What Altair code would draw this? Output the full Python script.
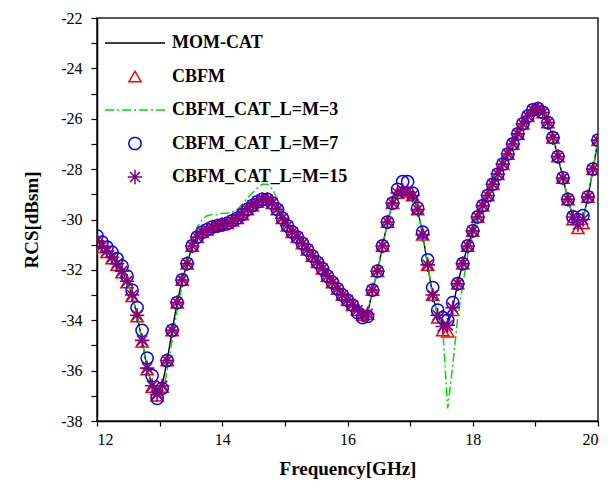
import altair as alt
import pandas as pd

# ---- data ----
freq = [round(12 + 0.08 * i, 2) for i in range(101)]  # 12.00 .. 20.00 GHz sweep

mom = [
    -30.85, -31.05, -31.25, -31.5, -31.75, -32.05, -32.45, -33.0, -33.8, -34.8,
    -35.9, -36.6, -36.95, -36.6, -35.6, -34.4, -33.3, -32.4, -31.75, -31.05,
    -30.7, -30.5, -30.4, -30.3, -30.25, -30.2, -30.15, -30.05, -29.95, -29.8,
    -29.6, -29.45, -29.3, -29.2, -29.2, -29.35, -29.6, -29.95, -30.25, -30.5,
    -30.7, -30.95, -31.2, -31.45, -31.7, -31.95, -32.25, -32.5, -32.75, -33.0,
    -33.2, -33.4, -33.6, -33.8, -33.75, -32.8, -32.05, -31.05, -30.1, -29.35,
    -28.95, -28.85, -28.9, -29.05, -29.6, -30.6, -31.8, -33.0, -33.8, -34.25,
    -34.2, -33.5, -32.55, -31.75, -31.05, -30.45, -29.9, -29.45, -29.05, -28.6,
    -28.2, -27.8, -27.4, -27.0, -26.6, -26.2, -25.9, -25.65, -25.6, -25.75,
    -26.15, -26.75, -27.5, -28.35, -29.2, -29.9, -30.2, -30.0, -29.1, -28.0,
    -26.85]

cbfm = [
    -30.9, -31.1, -31.3, -31.55, -31.8, -32.1, -32.5, -33.05, -33.85, -34.85,
    -35.95, -36.65, -37.0, -36.65, -35.6, -34.4, -33.3, -32.4, -31.75, -31.05,
    -30.7, -30.5, -30.4, -30.3, -30.25, -30.2, -30.15, -30.05, -29.95, -29.8,
    -29.6, -29.45, -29.3, -29.2, -29.2, -29.35, -29.6, -29.95, -30.25, -30.5,
    -30.7, -30.95, -31.2, -31.45, -31.7, -31.95, -32.25, -32.5, -32.75, -33.0,
    -33.2, -33.4, -33.6, -33.8, -33.75, -32.8, -32.05, -31.05, -30.1, -29.35,
    -28.95, -28.85, -28.9, -29.05, -29.6, -30.6, -31.8, -33.0, -33.9, -34.4,
    -34.45, -33.6, -32.55, -31.75, -31.05, -30.45, -29.9, -29.45, -29.05, -28.6,
    -28.2, -27.8, -27.4, -27.0, -26.6, -26.2, -25.9, -25.65, -25.6, -25.75,
    -26.15, -26.75, -27.5, -28.35, -29.2, -30.0, -30.35, -30.15, -29.1, -28.0,
    -26.85]

cat3 = [
    -30.85, -31.05, -31.25, -31.5, -31.75, -32.05, -32.45, -33.0, -33.8, -34.8,
    -35.9, -36.5, -36.9, -37.0, -36.0, -34.8, -33.6, -32.6, -31.75, -30.9,
    -30.3, -30.0, -29.85, -29.8, -29.8, -29.75, -29.75, -29.7, -29.6, -29.4,
    -29.15, -28.95, -28.75, -28.6, -28.6, -28.8, -29.2, -29.7, -30.1, -30.4,
    -30.6, -30.85, -31.1, -31.35, -31.6, -31.85, -32.15, -32.4, -32.65, -32.9,
    -33.1, -33.3, -33.5, -33.7, -33.7, -32.8, -32.05, -31.05, -30.1, -29.35,
    -28.95, -28.85, -28.9, -29.05, -29.6, -30.6, -31.8, -33.0, -33.8, -34.3,
    -37.5, -35.8, -33.9, -32.6, -31.4, -30.6, -29.9, -29.45, -29.05, -28.6,
    -28.2, -27.8, -27.4, -27.0, -26.6, -26.2, -25.9, -25.65, -25.6, -25.75,
    -26.15, -26.75, -27.5, -28.35, -29.2, -29.9, -30.2, -30.0, -29.1, -28.0,
    -26.85]

cat7 = [
    -30.65, -30.9, -31.1, -31.3, -31.55, -31.85, -32.25, -32.8, -33.5, -34.4,
    -35.5, -36.2, -37.1, -36.7, -35.6, -34.4, -33.3, -32.4, -31.75, -31.05,
    -30.7, -30.5, -30.4, -30.3, -30.25, -30.2, -30.15, -30.05, -29.95, -29.8,
    -29.6, -29.45, -29.3, -29.2, -29.2, -29.35, -29.6, -29.95, -30.25, -30.5,
    -30.7, -30.95, -31.2, -31.45, -31.7, -31.95, -32.25, -32.5, -32.75, -33.0,
    -33.2, -33.4, -33.7, -33.9, -33.85, -32.8, -32.05, -31.05, -30.1, -29.35,
    -28.8, -28.5, -28.5, -28.95, -29.55, -30.5, -31.6, -32.7, -33.6, -33.9,
    -34.0, -33.3, -32.55, -31.75, -31.05, -30.45, -29.9, -29.45, -29.05, -28.6,
    -28.2, -27.8, -27.4, -27.0, -26.6, -26.2, -25.9, -25.65, -25.6, -25.75,
    -26.15, -26.75, -27.5, -28.35, -29.2, -29.9, -30.0, -29.85, -29.1, -28.0,
    -26.85]

cat15 = list(mom)

names = ["MOM-CAT", "CBFM", "CBFM_CAT_L=M=3", "CBFM_CAT_L=M=7", "CBFM_CAT_L=M=15"]
colors = ["#000000", "#ff0000", "#00dd00", "#0000ff", "#800080"]
ASTER = "M-1,0L1,0M0,-1L0,1M-0.7,-0.7L0.7,0.7M-0.7,0.7L0.7,-0.7"
shapes = ["stroke", "triangle-up", "stroke", "circle", ASTER]
sizes = [3600, 150, 3600, 150, 210]
dashes = [[1, 0], [1, 0], [9, 3, 2, 3], [1, 0], [1, 0]]
xticks = [12, 13, 14, 15, 16, 17, 18, 19, 20]
yticks = list(range(-38, -21))

rows = []
for name, vals in zip(names, [mom, cbfm, cat3, cat7, cat15]):
    for f, v in zip(freq, vals):
        rows.append({"f": f, "v": v, "series": name})
df = pd.DataFrame(rows)

FONT = "Liberation Serif"

legend = alt.Legend(
    title=None, orient="none", legendX=7, legendY=15, padding=0,
    symbolStrokeWidth=1.5, symbolFillColor="transparent",
    labelFont=FONT, labelFontSize=18, labelFontWeight="bold", labelColor="black",
    labelOffset=6, rowPadding=13.5, labelLimit=400, clipHeight=20,
)

color = alt.Color("series:N", scale=alt.Scale(domain=names, range=colors), legend=legend)
shape = alt.Shape("series:N", scale=alt.Scale(domain=names, range=shapes), legend=legend)
size = alt.Size("series:N", scale=alt.Scale(type="ordinal", domain=names, range=sizes), legend=legend)
dash = alt.StrokeDash("series:N", scale=alt.Scale(domain=names, range=dashes), legend=legend)

x = alt.X("f:Q", scale=alt.Scale(domain=[12, 20], nice=False),
          axis=alt.Axis(values=xticks, title="Frequency[GHz]",
                        labelExpr="datum.value % 2 == 0 ? toString(datum.value) : ''",
                        tickSize=5, labelPadding=5, titlePadding=12))
y = alt.Y("v:Q", scale=alt.Scale(domain=[-38, -22], nice=False),
          axis=alt.Axis(values=yticks, title="RCS[dBsm]",
                        labelExpr="datum.value % 2 == 0 ? toString(datum.value) : ''",
                        tickSize=6, labelPadding=9, titlePadding=19))

base = alt.Chart(df)


def sel(name):
    return base.transform_filter(alt.datum.series == name)


l_mom = sel("MOM-CAT").mark_line(strokeWidth=1.4, clip=True).encode(
    x=x, y=y, color=color, strokeDash=dash)
p_cbfm = sel("CBFM").mark_point(filled=False, strokeWidth=1.5, opacity=1, clip=True).encode(
    x=x, y=y, color=color, shape=shape, size=size)
l_cat3 = sel("CBFM_CAT_L=M=3").mark_line(strokeWidth=1.5, clip=True).encode(
    x=x, y=y, color=color, strokeDash=dash)
p_cat7 = sel("CBFM_CAT_L=M=7").mark_point(filled=False, strokeWidth=1.5, opacity=1, clip=True).encode(
    x=x, y=y, color=color, shape=shape, size=size)
p_cat15 = sel("CBFM_CAT_L=M=15").mark_point(filled=False, strokeWidth=1.6, opacity=1, clip=True).encode(
    x=x, y=y, color=color, shape=shape, size=size)

chart = alt.layer(l_mom, p_cbfm, l_cat3, p_cat7, p_cat15).properties(
    width=501, height=403,
    background="white",
    autosize=alt.AutoSizeParams(type="none"),
    padding={"left": 89, "top": 10, "right": 5, "bottom": 58},
).configure_view(
    stroke="#222222", strokeWidth=1.5
).configure_axis(
    grid=False, labelFont=FONT, labelFontSize=16, labelColor="black",
    titleFont=FONT, titleFontSize=19, titleFontWeight="bold", titleColor="black",
    domainColor="black", domainWidth=1.5, tickColor="black", tickWidth=1.2,
)

chart.save("out.html", embed_options={"renderer": "svg", "actions": False})
